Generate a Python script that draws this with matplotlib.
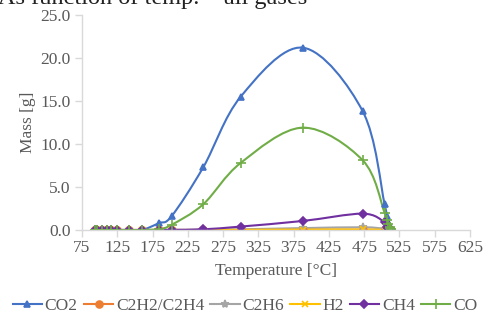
import matplotlib
matplotlib.use("Agg")
import matplotlib.pyplot as plt
from matplotlib.path import Path
from matplotlib.patches import PathPatch
from matplotlib.lines import Line2D
import numpy as np

plt.rcParams['font.family'] = ['Liberation Serif', 'DejaVu Serif']

# Temperature of each sample [°C]
temperature = [93, 97, 103, 110, 116, 124, 141, 160, 184, 202, 247, 300, 388, 473,
               504, 507, 509, 511, 512, 513]

# Mass of each gas [g]
co2 = [0, 0, 0, 0, 0, 0, 0, 0, 0.8, 1.6, 7.3, 15.5, 21.2, 13.8,
       3.0, 1.6, 0.9, 0.5, 0.2, 0.1]
c2h2_c2h4 = [0, 0, 0, 0, 0, 0, 0, 0, 0, 0, 0.01, 0.02, 0.03, 0.03,
             0.02, 0.02, 0.01, 0.01, 0.01, 0.0]
c2h6 = [0, 0, 0, 0, 0, 0, 0, 0, 0, 0, 0.02, 0.08, 0.22, 0.32,
        0.15, 0.1, 0.05, 0.03, 0.02, 0.01]
h2 = [0, 0, 0, 0, 0, 0, 0, 0, 0, 0, 0.0, 0.02, 0.05, 0.06,
      0.03, 0.02, 0.01, 0.01, 0.0, 0.0]
ch4 = [0, 0, 0, 0, 0, 0, 0, 0, 0.0, 0.02, 0.08, 0.4, 1.05, 1.9,
       0.9, 0.4, 0.2, 0.1, 0.05, 0.02]
co = [0, 0, 0, 0, 0, 0, 0, 0, 0.1, 0.6, 3.0, 7.8, 11.9, 8.1,
      2.0, 1.2, 0.7, 0.4, 0.2, 0.1]

series_names = ["CO2", "C2H2/C2H4", "C2H6", "H2", "CH4", "CO"]
series_values = [co2, c2h2_c2h4, c2h6, h2, ch4, co]
colors = ["#4472C4", "#ED7D31", "#A5A5A5", "#FFC000", "#7030A0", "#70AD47"]
markers = ["^", "o", "*", "x", "D", "+"]
msizes = [5, 5, 6, 5, 4, 7]

x_ticks = list(range(75, 626, 50))
y_ticks = [0, 5, 10, 15, 20, 25]


def smooth_path(xs, ys):
    """Cardinal-spline (Bezier) path through the points, like spreadsheet smoothed lines."""
    pts = np.column_stack([xs, ys]).astype(float)
    n = len(pts)
    verts = [pts[0]]
    codes = [Path.MOVETO]
    for i in range(n - 1):
        p0 = pts[i - 1] if i > 0 else pts[i]
        p1 = pts[i]
        p2 = pts[i + 1]
        p3 = pts[i + 2] if i + 2 < n else pts[i + 1]
        c1 = p1 + (p2 - p0) / 6.0
        c2 = p2 - (p3 - p1) / 6.0
        verts += [c1, c2, p2]
        codes += [Path.CURVE4] * 3
    return Path(verts, codes)


fig = plt.figure(figsize=(4.85, 3.21), dpi=100)
ax = fig.add_axes([0.169, 0.2835, 0.8, 0.6698])

for name, vals, c, m, ms in zip(series_names, series_values, colors, markers, msizes):
    ax.add_patch(PathPatch(smooth_path(temperature, vals), facecolor="none",
                           edgecolor=c, lw=1.5, capstyle="round", joinstyle="round"))
    ax.plot(temperature, vals, linestyle="none", marker=m, color=c,
            markersize=ms, markeredgewidth=1.2)

ax.set_xlim(75, 625)
ax.set_ylim(0, 25)
ax.set_xticks(x_ticks)
ax.set_yticks(y_ticks)
ax.set_yticklabels([f"{v:.1f}" for v in y_ticks])

grey = "#D9D9D9"
txt = "#595959"
for s in ["top", "right"]:
    ax.spines[s].set_visible(False)
for s in ["left", "bottom"]:
    ax.spines[s].set_color(grey)
    ax.spines[s].set_linewidth(1.0)
ax.tick_params(axis="both", colors=grey, labelcolor=txt, labelsize=12.5,
               length=5, width=1.0, direction="out")
ax.tick_params(axis="x", pad=2)
ax.tick_params(axis="y", pad=3)

ax.set_xlabel("Temperature [°C]", fontsize=12.5, color=txt, labelpad=5)
ax.set_ylabel("Mass [g]", fontsize=12.5, color=txt, labelpad=3)

handles = [Line2D([], [], color=c, marker=m, markersize=ms, lw=1.5, markeredgewidth=1.2)
           for c, m, ms in zip(colors, markers, msizes)]
leg = fig.legend(handles, series_names, loc="center", bbox_to_anchor=(0.505, 0.048),
                 ncol=6, frameon=False, fontsize=12.5, handlelength=1.7,
                 handletextpad=0.15, columnspacing=0.35, labelcolor=txt)

# figure caption running above the chart
fig.text(-0.005, 0.988, "As function of temp. \u2013 all gases", fontsize=17.5,
         color="#222222", ha="left", va="baseline")

fig.savefig("out.png", dpi=100)
